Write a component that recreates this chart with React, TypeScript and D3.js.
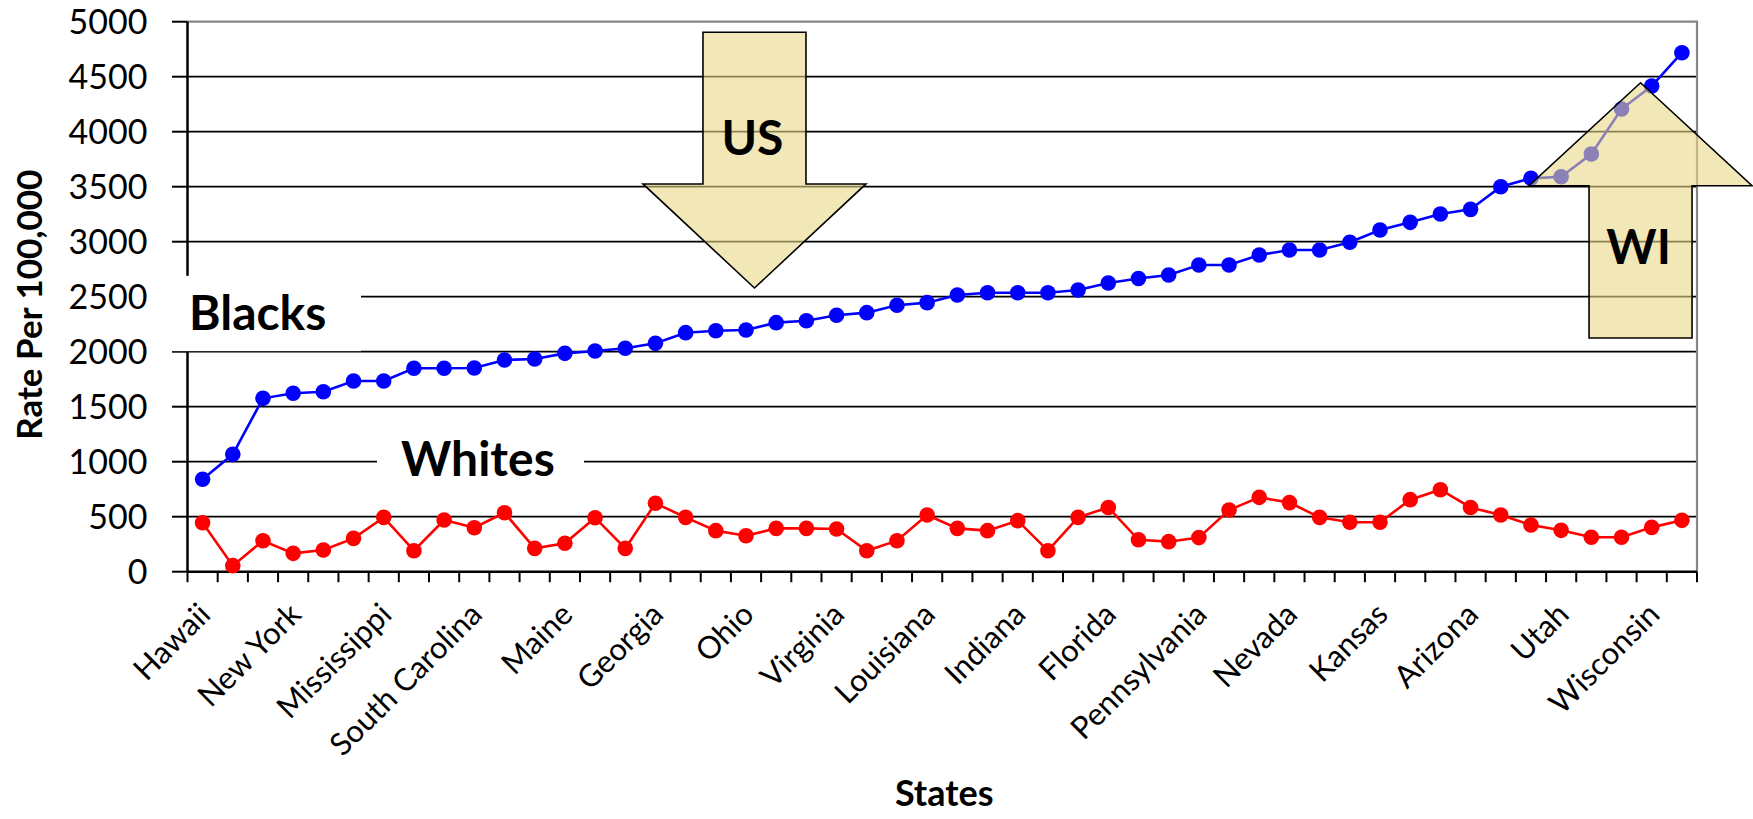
import { useEffect, useRef } from "react"
import * as d3 from "d3"

// states ordered by the rate for blacks (only every third one is labelled)
const states = [
  "Hawaii", "District of Columbia", "Maryland", "New York", "Massachusetts", "North Carolina",
  "Mississippi", "Arkansas", "Tennessee", "South Carolina", "Alabama", "Rhode Island",
  "Maine", "Illinois", "North Dakota", "Georgia", "Alaska", "West Virginia",
  "Ohio", "Michigan", "Minnesota", "Virginia", "New Jersey", "Nebraska",
  "Louisiana", "Delaware", "Washington", "Indiana", "Connecticut", "Missouri",
  "Florida", "New Mexico", "Wyoming", "Pennsylvania", "Kentucky", "Idaho",
  "Nevada", "New Hampshire", "California", "Kansas", "Texas", "Oklahoma",
  "Arizona", "Colorado", "Montana", "Utah", "Vermont", "Iowa",
  "Wisconsin", "South Dakota",
]

const blacks = [
  840, 1067, 1576, 1622, 1636, 1734, 1734, 1849, 1849, 1852, 1925, 1934,
  1985, 2006, 2031, 2076, 2173, 2191, 2197, 2264, 2282, 2331, 2355, 2422,
  2446, 2515, 2536, 2536, 2536, 2561, 2625, 2665, 2697, 2788, 2788, 2879,
  2925, 2925, 2995, 3106, 3176, 3252, 3294, 3500, 3576, 3591, 3797, 4206,
  4415, 4718,
]

const whites = [
  445, 55, 282, 167, 197, 303, 494, 191, 470, 400, 536, 212,
  258, 491, 212, 622, 494, 373, 327, 394, 394, 388, 191, 282,
  515, 394, 373, 464, 191, 494, 584, 290, 273, 310, 561, 676,
  628, 494, 449, 449, 655, 745, 584, 515, 425, 376, 313, 313,
  403, 467,
]

const yTicks = [0, 500, 1000, 1500, 2000, 2500, 3000, 3500, 4000, 4500, 5000]

// block arrows: centre in category units, ends in data units
const arrows = [
  { label: "US", dir: "down", cx: 18.78, start: 4904, neck: 3525, end: 2579, textY: 3790 },
  { label: "WI", dir: "up", cx: 48.13, start: 2125, neck: 3509, end: 4445, textY: 2796 },
]

const FONT = "Lato, 'Open Sans', sans-serif"

export default function App() {
  const svgRef = useRef<SVGSVGElement>(null)

  useEffect(() => {
    if (!svgRef.current) return
    const W = 1753
    const H = 819
    const left = 187.5
    const right = 1697
    const top = 21.7
    const bottom = 571.7

    const svg = d3.select(svgRef.current)
    svg.selectAll("*").remove()
    svg.attr("width", W).attr("height", H)

    const x = d3.scaleBand<string>().domain(states).range([left, right])
    const xi = d3.scaleLinear().domain([0, states.length]).range([left, right])
    const y = d3.scaleLinear().domain([0, 5000]).range([bottom, top])
    const cx = (i: number) => (x(states[i]) ?? 0) + x.bandwidth() / 2

    // Grid lines
    svg.append("g")
      .selectAll("line")
      .data(yTicks.filter((t) => t > 0 && t < 5000))
      .join("line")
      .attr("x1", left)
      .attr("x2", right)
      .attr("y1", (d) => y(d))
      .attr("y2", (d) => y(d))
      .attr("stroke", "#000")
      .attr("stroke-width", 1.8)

    // plot border top / right
    svg.append("path")
      .attr("d", `M${left},${top}H${right}V${bottom}`)
      .attr("fill", "none")
      .attr("stroke", "#868686")
      .attr("stroke-width", 2.2)

    // Axes
    svg.append("line")
      .attr("x1", left).attr("x2", left)
      .attr("y1", top).attr("y2", bottom)
      .attr("stroke", "#000").attr("stroke-width", 2.5)
    svg.append("line")
      .attr("x1", left).attr("x2", right)
      .attr("y1", bottom).attr("y2", bottom)
      .attr("stroke", "#000").attr("stroke-width", 2.5)

    svg.append("g")
      .selectAll("line")
      .data(yTicks)
      .join("line")
      .attr("x1", left - 15.5)
      .attr("x2", left)
      .attr("y1", (d) => y(d))
      .attr("y2", (d) => y(d))
      .attr("stroke", "#000")
      .attr("stroke-width", 2)

    svg.append("g")
      .selectAll("text")
      .data(yTicks)
      .join("text")
      .attr("x", left - 40)
      .attr("y", (d) => y(d))
      .attr("dy", "0.36em")
      .attr("text-anchor", "end")
      .style("font-family", FONT)
      .style("font-size", "34px")
      .text((d) => String(d))

    svg.append("g")
      .selectAll("line")
      .data(d3.range(states.length + 1))
      .join("line")
      .attr("x1", (d) => xi(d))
      .attr("x2", (d) => xi(d))
      .attr("y1", bottom)
      .attr("y2", bottom + 10.5)
      .attr("stroke", "#000")
      .attr("stroke-width", 2)

    svg.append("g")
      .selectAll("text")
      .data(states.filter((_, i) => i % 3 === 0))
      .join("text")
      .attr("transform", (d) => `translate(${cx(states.indexOf(d)) + 2},${bottom + 37}) rotate(-45)`)
      .attr("dy", "0.35em")
      .attr("text-anchor", "end")
      .style("font-family", FONT)
      .style("font-size", "31px")
      .text((d) => d)

    // Axis titles
    svg.append("text")
      .attr("transform", `translate(42,${(top + bottom) / 2 + 8}) rotate(-90)`)
      .attr("text-anchor", "middle")
      .style("font-family", FONT)
      .style("font-weight", "bold")
      .style("font-size", "35px")
      .text("Rate Per 100,000")

    svg.append("text")
      .attr("x", (left + right) / 2 + 2)
      .attr("y", 806)
      .attr("text-anchor", "middle")
      .style("font-family", FONT)
      .style("font-weight", "bold")
      .style("font-size", "36px")
      .text("States")

    // Series labels on white boxes
    svg.append("rect").attr("x", 150).attr("y", y(2690)).attr("width", 211).attr("height", y(2005) - y(2690)).attr("fill", "#fff")
    svg.append("rect").attr("x", 377).attr("y", y(1330)).attr("width", 207).attr("height", y(670) - y(1330)).attr("fill", "#fff")
    svg.append("text")
      .attr("x", 189).attr("y", y(2200))
      .style("font-family", FONT).style("font-weight", "bold").style("font-size", "48px")
      .text("Blacks")
    svg.append("text")
      .attr("x", 401).attr("y", y(870))
      .style("font-family", FONT).style("font-weight", "bold").style("font-size", "48px")
      .text("Whites")

    // Lines + markers
    const series = [
      { values: blacks, color: "#0000ff" },
      { values: whites, color: "#ff0000" },
    ]
    series.forEach((s) => {
      const line = d3
        .line<number>()
        .x((_, i) => cx(i))
        .y((d) => y(d))
      svg.append("path")
        .attr("d", line(s.values))
        .attr("fill", "none")
        .attr("stroke", s.color)
        .attr("stroke-width", 2.6)
      svg.append("g")
        .selectAll("circle")
        .data(s.values)
        .join("circle")
        .attr("cx", (_, i) => cx(i))
        .attr("cy", (d) => y(d))
        .attr("r", 7.8)
        .attr("fill", s.color)
    })

    // Block arrows
    const shaft = 51.5
    const head = 111.5
    arrows.forEach((a) => {
      const c = xi(a.cx)
      const y0 = y(a.start)
      const yn = y(a.neck)
      const y1 = y(a.end)
      const pts: [number, number][] = [
        [c - shaft, y0],
        [c + shaft, y0],
        [c + shaft, yn],
        [c + head, yn],
        [c, y1],
        [c - head, yn],
        [c - shaft, yn],
      ]
      svg.append("path")
        .attr("d", d3.line()(pts) + "Z")
        .attr("fill", "#e9d787")
        .attr("fill-opacity", 0.6)
        .attr("stroke", "#000")
        .attr("stroke-width", 1.6)
        .attr("stroke-linejoin", "miter")
      svg.append("text")
        .attr("x", c - 2)
        .attr("y", y(a.textY))
        .attr("text-anchor", "middle")
        .style("font-family", FONT)
        .style("font-weight", "bold")
        .style("font-size", "48px")
        .text(a.label)
    })
  }, [])

  return (
    <div>
      <style>{`body{margin:0}`}</style>
      <svg ref={svgRef} style={{ display: "block", background: "#fff" }} />
    </div>
  )
}
